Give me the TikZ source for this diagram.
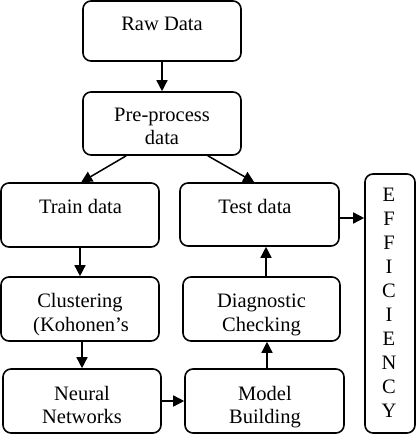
\documentclass[tikz,border=0pt]{standalone}
\usepackage{fontspec}
\setmainfont{Liberation Serif}
\usetikzlibrary{arrows.meta}
\begin{document}
\begin{tikzpicture}[x=1pt,y=-1pt,
  box/.style={draw,line width=1.6pt,rounded corners=8pt,inner sep=0pt},
  txt/.style={anchor=base,inner sep=0pt,font=\fontsize{20.5}{20.5}\selectfont},
  arr/.style={line width=1.5pt,-{Triangle[length=11pt,width=11pt]}}]
\useasboundingbox (0,0) rectangle (416,435);
% boxes
\node[box,minimum width=158pt,minimum height=60pt] (raw) at (162,31) {};
\node[box,minimum width=158pt,minimum height=63pt] (pre) at (162,123.5) {};
\node[box,minimum width=158pt,minimum height=64pt] (train) at (80,215) {};
\node[box,minimum width=159pt,minimum height=63pt] (test) at (259.5,214.5) {};
\node[box,minimum width=158pt,minimum height=64pt] (clus) at (80,309) {};
\node[box,minimum width=157pt,minimum height=64pt] (diag) at (261.5,309) {};
\node[box,minimum width=158pt,minimum height=64pt] (neur) at (82,401) {};
\node[box,minimum width=159pt,minimum height=64pt] (model) at (264.5,401) {};
\node[box,minimum width=50pt,minimum height=259pt] (eff) at (390,303.5) {};
% texts
\node[txt] (t1) at (162,31) {Raw Data};
\node[txt] (t2) at (162,122) {Pre-process};
\node[txt] (t3) at (162,145) {data};
\node[txt] (t4) at (80.5,214) {Train data};
\node[txt] (t5) at (255,213) {Test data};
\node[txt] (t6) at (80,307) {Clustering};
\node[txt] (t7) at (81,331) {(Kohonen’s};
\node[txt] (t8) at (261.5,307) {Diagnostic};
\node[txt] (t9) at (261.5,331) {Checking};
\node[txt] (t10) at (82,400) {Neural};
\node[txt] (t11) at (82,423) {Networks};
\node[txt] (t12) at (265,400) {Model};
\node[txt] (t13) at (265,423) {Building};
\foreach \l [count=\i from 0] in {E,F,F,I,C,I,E,N,C,Y}{
  \node[txt] (e\i) at (389,202+23.9*\i) {\l};
}
% arrows
\draw[arr] (raw) -- (pre);
\draw[arr] ([xshift=44pt]pre.south west) -- ([xshift=81pt]train.north west);
\draw[arr] ([xshift=-34pt]pre.south east) -- ([xshift=75pt]test.north west);
\draw[arr] (train) -- (train |- clus.north);
\draw[arr] ([xshift=2pt]clus.south) -- ([xshift=2pt]clus.south |- neur.north);
\draw[arr] (neur) -- (model);
\draw[arr] ([xshift=2.5pt]model.north) -- ([xshift=2.5pt]model.north |- diag.south);
\draw[arr] ([xshift=4.5pt]diag.north) -- ([xshift=4.5pt]diag.north |- test.south);
\draw[arr] ([yshift=-3.5pt]test.east) -- ([yshift=-3.5pt]test.east -| eff.west);
\end{tikzpicture}
\end{document}
